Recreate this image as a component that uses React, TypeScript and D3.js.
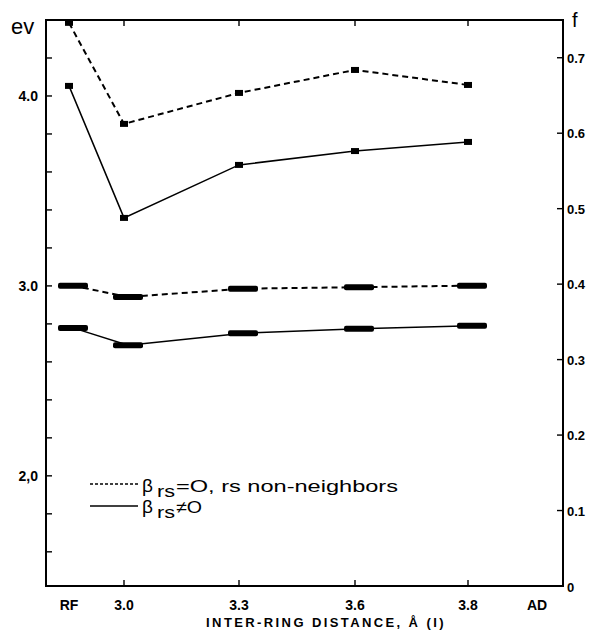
import React, { useEffect, useRef } from "react";
import * as d3 from "d3";

// distance categories along the bottom (RF and AD are the end states)
const categories = ["RF", "3.0", "3.3", "3.6", "3.8", "AD"];
const pointCats = ["RF", "3.0", "3.3", "3.6", "3.8"];

// transition energies (ev, left axis)
const evDashed = [4.385, 3.853, 4.016, 4.137, 4.058];
const evSolid = [4.053, 3.358, 3.637, 3.71, 3.758];

// oscillator strengths (f, right axis)
const fDashed = [0.398, 0.383, 0.394, 0.396, 0.398];
const fSolid = [0.342, 0.319, 0.335, 0.341, 0.345];

const evTicks = [1.6, 1.8, 2.0, 2.2, 2.4, 2.6, 2.8, 3.0, 3.2, 3.4, 3.6, 3.8, 4.0, 4.2];
const evLabels = [
  { v: 4.0, t: "4.0" },
  { v: 3.0, t: "3.0" },
  { v: 2.0, t: "2,0" },
];
const fTicks = [0, 0.1, 0.2, 0.3, 0.4, 0.5, 0.6, 0.7];
const xTicks = ["3.0", "3.3", "3.6", "3.8"];

export default function App() {
  const svgRef = useRef<SVGSVGElement | null>(null);

  useEffect(() => {
    const W = 590, H = 632;
    const margin = { top: 20, right: 27, bottom: 46, left: 46 };
    const x0 = margin.left, x1 = W - margin.right;
    const y0 = margin.top, y1 = H - margin.bottom;

    const svg = d3.select(svgRef.current);
    svg.selectAll("*").remove();
    svg.attr("width", W).attr("height", H);

    const font = "'Liberation Sans', Arial, sans-serif";

    const x = d3.scaleOrdinal<string, number>()
      .domain(categories)
      .range([69, 124, 239, 355, 468, 537]);

    const yEv = d3.scaleLinear().domain([1.42, 4.4]).range([y1, y0]);
    const yF = d3.scaleLinear().domain([0, 0.75]).range([y1, y0]);

    // frame
    svg.append("path")
      .attr("d", `M${x0},${y0}H${x1}V${y1}H${x0}Z`)
      .attr("fill", "none")
      .attr("stroke", "#000")
      .attr("stroke-width", 2);

    // left ticks (inward)
    svg.selectAll(".evtick").data(evTicks).enter().append("line")
      .attr("x1", x0).attr("x2", x0 + 6)
      .attr("y1", d => yEv(d)).attr("y2", d => yEv(d))
      .attr("stroke", "#000").attr("stroke-width", 1.4);

    svg.selectAll(".evlab").data(evLabels).enter().append("text")
      .attr("x", x0 - 8).attr("y", d => yEv(d.v) + 5)
      .attr("text-anchor", "end")
      .style("font", `bold 14px ${font}`)
      .text(d => d.t);

    svg.append("text")
      .attr("x", 11).attr("y", 34)
      .style("font", `22px ${font}`)
      .text("ev");

    // right ticks
    svg.selectAll(".ftick").data(fTicks.filter(d => d > 0)).enter().append("line")
      .attr("x1", x1 - 6).attr("x2", x1)
      .attr("y1", d => yF(d)).attr("y2", d => yF(d))
      .attr("stroke", "#000").attr("stroke-width", 1.4);

    svg.selectAll(".flab").data(fTicks).enter().append("text")
      .attr("x", x1 + 4).attr("y", d => yF(d) + (d === 0 ? 6 : 5))
      .style("font", `bold 13px ${font}`)
      .text(d => (d === 0 ? "0" : d3.format(".1f")(d)));

    svg.append("text")
      .attr("x", x1 + 9).attr("y", 27)
      .style("font", `20px ${font}`)
      .text("f");

    // x ticks, bottom and top
    xTicks.forEach(c => {
      svg.append("line").attr("x1", x(c)).attr("x2", x(c))
        .attr("y1", y1).attr("y2", y1 - 6)
        .attr("stroke", "#000").attr("stroke-width", 1.4);
      svg.append("line").attr("x1", x(c)).attr("x2", x(c))
        .attr("y1", y0).attr("y2", y0 + 6)
        .attr("stroke", "#000").attr("stroke-width", 1.4);
    });

    svg.selectAll(".xlab").data(categories).enter().append("text")
      .attr("x", d => x(d)).attr("y", y1 + 24)
      .attr("text-anchor", "middle")
      .style("font", `bold 14px ${font}`)
      .text(d => d);

    svg.append("text")
      .attr("x", 326).attr("y", 627)
      .attr("text-anchor", "middle")
      .style("font", `bold 13px ${font}`)
      .style("letter-spacing", "2.4px")
      .text("INTER-RING DISTANCE, Å (I)");

    // lines
    const evLine = d3.line<number>()
      .x((d, i) => x(pointCats[i]))
      .y(d => yEv(d));
    const fLine = d3.line<number>()
      .x((d, i) => x(pointCats[i]) + 4)
      .y(d => yF(d));

    svg.append("path").attr("d", evLine(evDashed))
      .attr("fill", "none").attr("stroke", "#000")
      .attr("stroke-width", 2).attr("stroke-dasharray", "6,4");
    svg.append("path").attr("d", evLine(evSolid))
      .attr("fill", "none").attr("stroke", "#000").attr("stroke-width", 1.5);
    svg.append("path").attr("d", fLine(fDashed))
      .attr("fill", "none").attr("stroke", "#000")
      .attr("stroke-width", 2).attr("stroke-dasharray", "6,4");
    svg.append("path").attr("d", fLine(fSolid))
      .attr("fill", "none").attr("stroke", "#000").attr("stroke-width", 1.5);

    // markers: small squares on ev, wide bars on f
    [evDashed, evSolid].forEach(arr => {
      svg.append("g").selectAll("rect").data(arr).enter().append("rect")
        .attr("x", (d, i) => x(pointCats[i]) - 4)
        .attr("y", d => yEv(d) - 3)
        .attr("width", 8).attr("height", 6)
        .attr("fill", "#000");
    });
    [fDashed, fSolid].forEach(arr => {
      svg.append("g").selectAll("rect").data(arr).enter().append("rect")
        .attr("x", (d, i) => x(pointCats[i]) + 4 - 15)
        .attr("y", d => yF(d) - 3)
        .attr("width", 30).attr("height", 6)
        .attr("rx", 2)
        .attr("fill", "#000");
    });

    // legend
    const lg = svg.append("g");
    lg.append("line").attr("x1", 90).attr("x2", 138).attr("y1", 484).attr("y2", 484)
      .attr("stroke", "#000").attr("stroke-width", 1.5).attr("stroke-dasharray", "3,2");
    lg.append("line").attr("x1", 90).attr("x2", 138).attr("y1", 506).attr("y2", 506)
      .attr("stroke", "#000").attr("stroke-width", 1.5);

    const legendRow = (y: number, rest: string, restLen: number) => {
      lg.append("text").attr("x", 142).attr("y", y)
        .style("font", `19px ${font}`).text("β");
      lg.append("text").attr("x", 157).attr("y", y + 5)
        .attr("textLength", 18).attr("lengthAdjust", "spacingAndGlyphs")
        .style("font", `16px ${font}`).text("rs");
      lg.append("text").attr("x", 176).attr("y", y)
        .attr("textLength", restLen).attr("lengthAdjust", "spacingAndGlyphs")
        .style("font", `17px ${font}`).text(rest);
    };
    legendRow(492, "=O,  rs non-neighbors", 222);
    legendRow(513, "≠O", 26);
  }, []);

  return (
    <svg ref={svgRef} style={{ position: "absolute", left: 0, top: 0, background: "#fff" }} />
  );
}
